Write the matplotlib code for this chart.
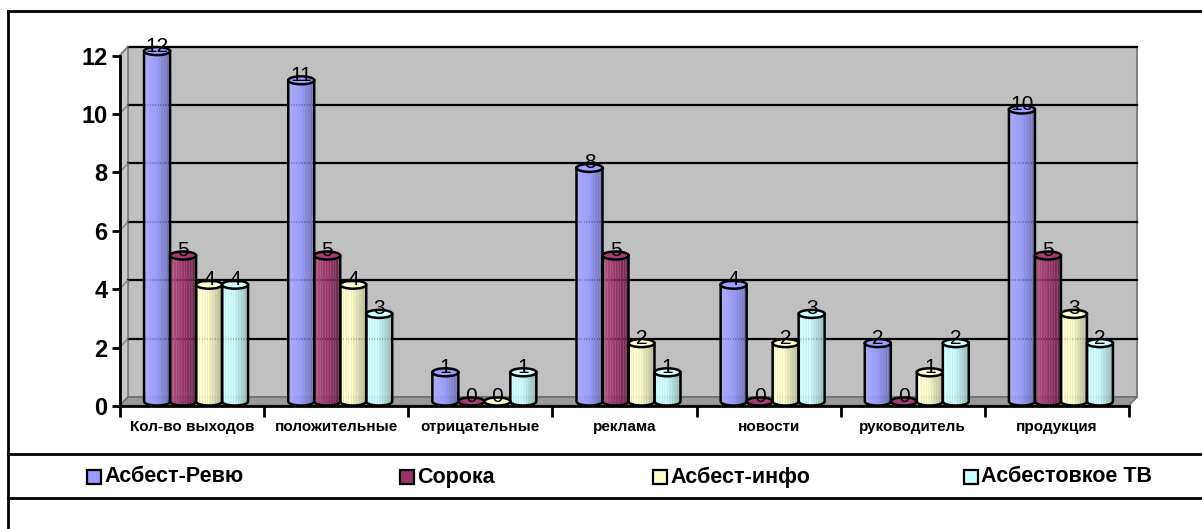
import numpy as np
import matplotlib
matplotlib.use('Agg')
import matplotlib.pyplot as plt
from matplotlib.patches import Polygon, Ellipse, Rectangle
from matplotlib.lines import Line2D

plt.rcParams['font.family'] = ['Liberation Sans', 'DejaVu Sans']

categories = ['Кол-во выходов', 'положительные', 'отрицательные', 'реклама',
              'новости', 'руководитель', 'продукция']
series_names = ['Асбест-Ревю', 'Сорока', 'Асбест-инфо', 'Асбестовкое ТВ']
asbest_review = [12, 11, 1, 8, 4, 2, 10]
soroka = [5, 5, 0, 5, 0, 0, 5]
asbest_info = [4, 4, 0, 2, 2, 1, 3]
asbest_tv = [4, 3, 1, 1, 3, 2, 2]
series = [asbest_review, soroka, asbest_info, asbest_tv]
colors = ['#9999FF', '#993366', '#FFFFCC', '#CCFFFF']
y_ticks = [0, 2, 4, 6, 8, 10, 12]

W, H = 1202, 529
fig = plt.figure(figsize=(W / 100, H / 100), dpi=100)


def px_axes(left, y0, width, height, z):
    a = fig.add_axes([left / W, (H - y0) / H, width / W, height / H], zorder=z)
    a.set_xlim(0, len(categories))
    a.set_ylim(0, 12)
    a.patch.set_visible(False)
    return a


PW, PH = 1009, 350.4
DX, DY = 8, 8.5
ax_back = px_axes(128, 397, PW, PH, 0)
ax = px_axes(124, 401.5, PW, PH, 1)
ax_front = px_axes(120, 406, PW, PH, 2)

ncat = len(categories)
ddx = DX / (PW / ncat)
ddy = DY / (PH / 12)

# back wall, side wall, floor
ax_back.axis('off')
ax_back.add_patch(Rectangle((0, 0), ncat, 12, fc='#C0C0C0', ec='#808080', lw=1.5, clip_on=False))
ax_back.add_patch(Polygon([(0, 0), (0, 12), (-ddx, 12 - ddy), (-ddx, -ddy)],
                          fc='#C8C8C8', ec='#808080', lw=1.2, clip_on=False))
ax_back.add_patch(Polygon([(0, 0), (ncat, 0), (ncat - ddx, -ddy), (-ddx, -ddy)],
                          fc='#9A9A9A', ec='#707070', lw=1.2, clip_on=False))
for v in y_ticks[1:]:
    ax_back.plot([0, ncat], [v, v], color='black', lw=1.6, clip_on=False)
    ax_back.plot([0, -ddx], [v, v - ddy], color='#808080', lw=1.0, clip_on=False)

# cylinders
ax.axis('off')
bw = 26 / (PW / ncat)
rx = bw / 2
ry = 4 / (PH / 12)
nstrip = 16
offsets = [-1.5, -0.5, 0.5, 1.5]


def shade(c, t):
    base = np.array(matplotlib.colors.to_rgb(c))
    if t < 0.45:
        k = 0.18 * (1 - t / 0.45)
        return base + (1 - base) * k
    return base * (1 - 0.28 * (t - 0.45) / 0.55)


for s, vals in enumerate(series):
    for i, v in enumerate(vals):
        xc = i + 0.5 + offsets[s] * bw
        # body strips
        if v > 0:
            edges = np.linspace(xc - rx, xc + rx, nstrip + 1)
            for k in range(nstrip):
                xa, xb = edges[k], edges[k + 1]
                xs = np.linspace(xa, xb, 4)
                bot = -ry * np.sqrt(np.clip(1 - ((xs - xc) / rx) ** 2, 0, 1))
                pts = [(xa, v)] + list(zip(xs, bot)) + [(xb, v)]
                col = shade(colors[s], (k + 0.5) / nstrip)
                ax.add_patch(Polygon(pts, fc=col, ec='none', clip_on=False, zorder=2))
            xs = np.linspace(xc - rx, xc + rx, 40)
            bot = -ry * np.sqrt(np.clip(1 - ((xs - xc) / rx) ** 2, 0, 1))
            ax.plot(np.r_[xc - rx, xs, xc + rx], np.r_[v, bot, v],
                    color='black', lw=1.8, clip_on=False, zorder=3)
        top_col = shade(colors[s], 0.3)
        ax.add_patch(Ellipse((xc, v), 2 * rx, 2 * ry, fc=top_col, ec='black',
                             lw=1.8, clip_on=False, zorder=4))
        ax.text(xc, v + 0.17, str(v), ha='center', va='center', fontsize=15,
                color='black', zorder=5)

# front axes: spines, ticks, labels
for sp in ['top', 'right']:
    ax_front.spines[sp].set_visible(False)
for sp in ['left', 'bottom']:
    ax_front.spines[sp].set_linewidth(2)
    ax_front.spines[sp].set_color('black')
ax_front.set_yticks(y_ticks)
ax_front.set_yticklabels([str(t) for t in y_ticks], fontsize=17, fontweight='bold')
ax_front.tick_params(axis='y', length=6, width=2, pad=3)
ax_front.set_xticks(np.arange(ncat + 1))
ax_front.set_xticklabels([])
ax_front.tick_params(axis='x', which='major', length=8, width=2)
ax_front.set_xticks(np.arange(ncat) + 0.5, minor=True)
ax_front.set_xticklabels(categories, minor=True, fontsize=11, fontweight='bold')
ax_front.tick_params(axis='x', which='minor', length=0, pad=10)

# outer frame
for seg in [((8, 8), (11, H)), ((8, W), (11, 11)), ((8, W), (454, 454)), ((8, W), (498, 498))]:
    fig.add_artist(Line2D([seg[0][0] / W, seg[0][1] / W],
                          [1 - seg[1][0] / H, 1 - seg[1][1] / H],
                          color='black', lw=2, transform=fig.transFigure))

# legend
leg_x = [87, 400, 653, 964]
for name, c, lx in zip(series_names, colors, leg_x):
    fig.add_artist(Rectangle((lx / W, 1 - 484 / H), 14 / W, 14 / H, fc=c, ec='black',
                             lw=1.6, transform=fig.transFigure))
    fig.text((lx + 17) / W, 1 - 477 / H, name, fontsize=15.5, fontweight='bold',
             va='center', ha='left')

fig.savefig('out.png', dpi=100)
